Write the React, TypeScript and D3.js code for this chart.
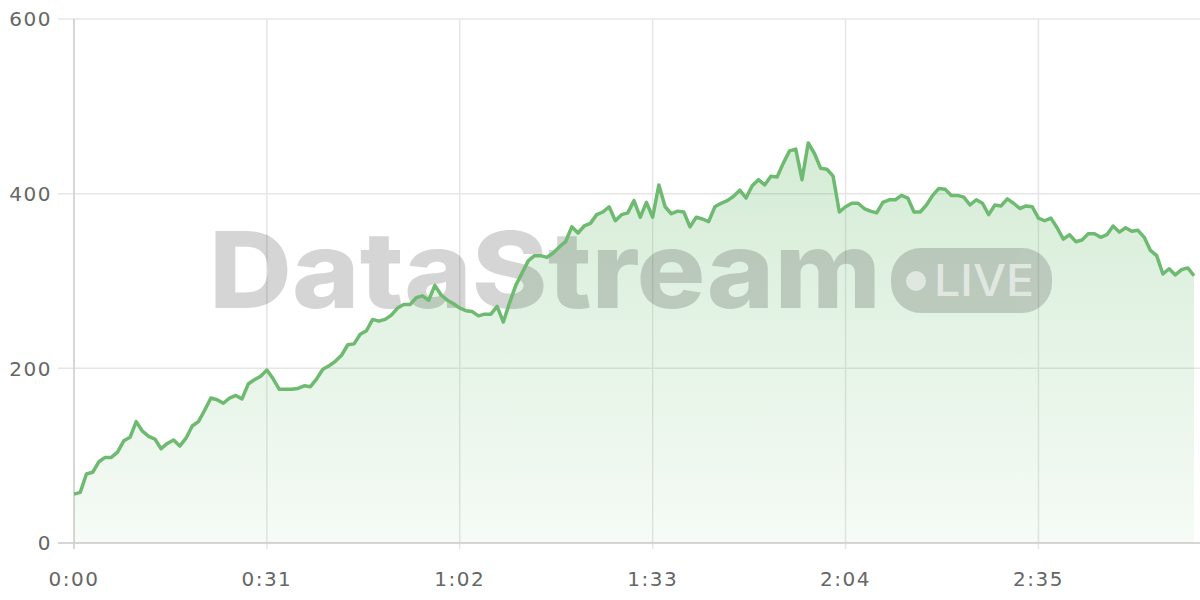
import React from "react";
import * as d3 from "d3";

const seconds: number[] = Array.from({ length: 181 }, (_, i) => i);
const values: number[] = [
  56, 58, 79, 81, 93, 98, 98, 104, 117, 121,
  139, 128, 122, 119, 108, 114, 118, 111, 120, 134,
  139, 152, 166, 164, 160, 166, 169, 165, 182, 187,
  191, 198, 188, 176, 176, 176, 177, 180, 179, 188,
  199, 203, 208, 215, 227, 228, 239, 243, 256, 254,
  256, 261, 269, 273, 273, 281, 283, 278, 295, 284,
  278, 274, 269, 266, 265, 260, 262, 262, 271, 253,
  275, 295, 309, 323, 329, 329, 327, 332, 339, 345,
  362, 355, 363, 366, 376, 379, 385, 369, 376, 378,
  392, 373, 390, 373, 410, 385, 377, 380, 379, 362,
  373, 371, 368, 385, 389, 392, 397, 404, 395, 409,
  416, 410, 420, 419, 435, 449, 451, 416, 458, 446,
  429, 428, 420, 379, 385, 389, 389, 383, 380, 378,
  390, 393, 393, 398, 395, 379, 379, 387, 398, 406,
  405, 398, 398, 396, 387, 393, 389, 376, 387, 386,
  394, 389, 383, 386, 385, 372, 369, 372, 361, 348,
  353, 345, 347, 354, 354, 350, 353, 363, 356, 361,
  357, 358, 350, 335, 329, 308, 314, 307, 313, 315,
  306,
];
const xTicks: number[] = [0, 31, 62, 93, 124, 155];
const yTicks: number[] = [0, 200, 400, 600];
const watermarkTitle = "DataStream";
const watermarkBadge = "LIVE";

const fmt = (s: number) => `${Math.floor(s / 60)}:${String(s % 60).padStart(2, "0")}`;

export default function App() {
  const W = 1200, H = 600;
  const x = d3.scaleLinear().domain([0, 180]).range([74, 1194]);
  const y = d3.scaleLinear().domain([0, 600]).range([543, 19]);
  const pts = seconds.map((s, i) => [s, values[i]] as [number, number]);
  const line = d3.line<[number, number]>().x(d => x(d[0])).y(d => y(d[1]));
  const area = d3.area<[number, number]>().x(d => x(d[0])).y0(y(0)).y1(d => y(d[1]));
  const font = "'DejaVu Sans', sans-serif";
  return (
    <svg width={W} height={H} style={{ position: "absolute", left: 0, top: 0, background: "#fff" }}>
      <defs>
        <linearGradient id="ag" x1="0" y1="0" x2="0" y2="1">
          <stop offset="0%" stopColor="#66bb6a" stopOpacity={0.28} />
          <stop offset="100%" stopColor="#66bb6a" stopOpacity={0.06} />
        </linearGradient>
      </defs>
      {yTicks.map(t => (
        <line key={"yg" + t} x1={58} x2={1200} y1={y(t)} y2={y(t)} stroke="#e6e6e6" strokeWidth={1.5} />
      ))}
      {xTicks.map(t => (
        <line key={"xg" + t} x1={x(t)} x2={x(t)} y1={19} y2={549} stroke="#e6e6e6" strokeWidth={1.5} />
      ))}
      <line x1={74} x2={74} y1={19} y2={549} stroke="#d0d0d0" strokeWidth={1.5} />
      <line x1={58} x2={1200} y1={543} y2={543} stroke="#cfcfcf" strokeWidth={1.5} />
      <path d={area(pts) || ""} fill="url(#ag)" />
      <g opacity={0.16} fill="#000">
        <text x={209} y={308} fontFamily="Inter, 'DejaVu Sans', sans-serif" fontWeight={800} fontSize={106}
          textLength={672} lengthAdjust="spacingAndGlyphs">{watermarkTitle}</text>
        <rect x={891} y={248} width={161} height={65} rx={30} />
      </g>
      <g fill="#fff" opacity={0.55}>
        <circle cx={916} cy={281} r={10} />
        <text x={934} y={296} fontFamily="Inter, 'DejaVu Sans', sans-serif" fontWeight={500} fontSize={44}
          textLength={100} lengthAdjust="spacingAndGlyphs">{watermarkBadge}</text>
      </g>
      <path d={line(pts) || ""} fill="none" stroke="#6dba70" strokeWidth={3.5} strokeLinejoin="round" />
      {yTicks.map(t => (
        <text key={"yl" + t} x={52} y={y(t)} dy="0.36em" textAnchor="end" fontFamily={font} fontSize={20}
          letterSpacing={1.5} fill="#666">{t}</text>
      ))}
      {xTicks.map(t => (
        <text key={"xl" + t} x={x(t)} y={579} dy="0.36em" textAnchor="middle" fontFamily={font} fontSize={20}
          letterSpacing={1.5} fill="#666">{fmt(t)}</text>
      ))}
    </svg>
  );
}
